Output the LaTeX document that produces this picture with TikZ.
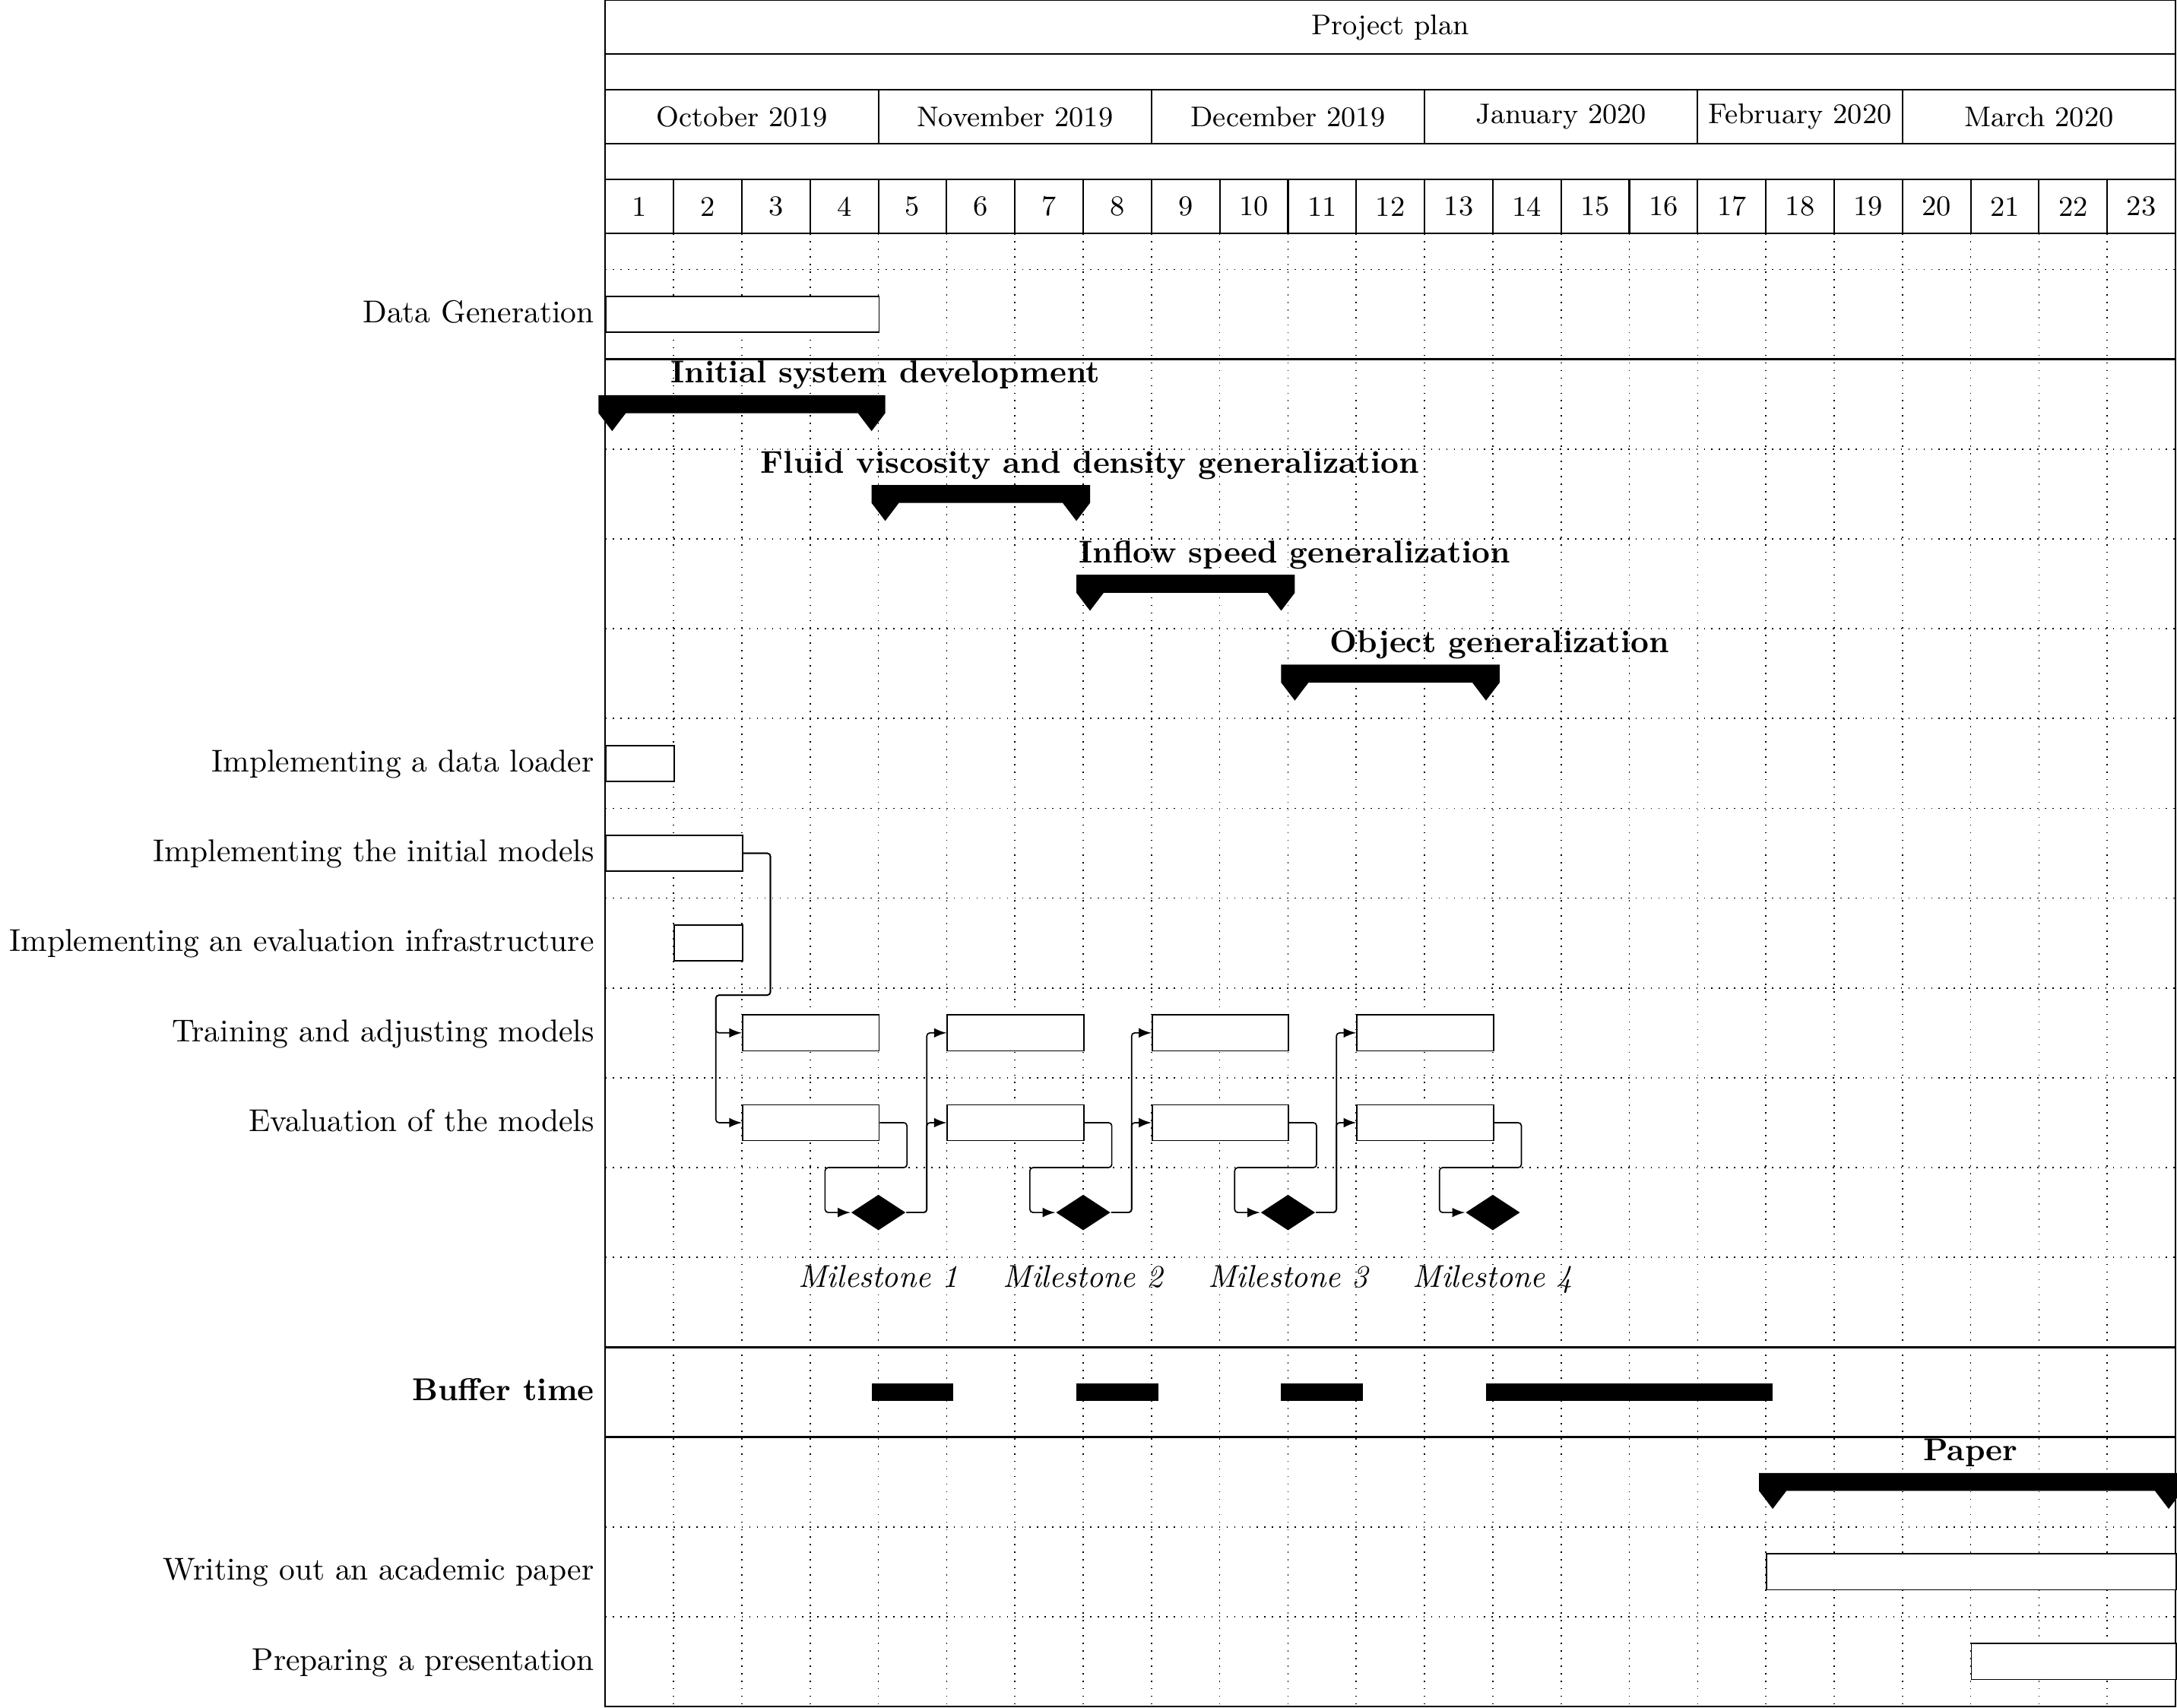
\documentclass[tikz,border=0pt]{standalone}
\usepackage{tikz}
\usetikzlibrary{arrows,shapes.geometric}

\begin{document}
\begin{tikzpicture}
		[x=0.7601cm, y=-1cm,
		gridline/.style={dotted, line width=0.4pt},
		frame/.style={line width=0.5pt},
		sep/.style={semithick},
		bar/.style={draw, fill=white, line width=0.4pt, anchor=west, inner sep=0pt,
			minimum height=0.4cm, minimum width=#1*0.7601cm},
		ms/.style={diamond, fill=black, inner sep=0pt, minimum width=0.608cm, minimum height=0.4cm},
		lbl/.style={anchor=base east},
		grplbl/.style={anchor=base, font=\bfseries},
		mslbl/.style={anchor=base, font=\itshape},
		head/.style={font=\small},
		link/.style={-latex, line width=0.4pt, rounded corners=1pt}]

		\useasboundingbox (-8.867,0) rectangle (23.022,19.014);

		% grid
		\foreach \i in {1,...,22}
			\draw[gridline] (\i,2.6) -- (\i,19);
		\foreach \j in {3,5,6,7,8,9,10,11,12,13,14,17,18}
			\draw[gridline] (0,\j) -- (23,\j);

		% title rows
		\draw[frame] (0,0) rectangle (23,19);
		\foreach \j in {0.6,1,1.6,2,2.6}
			\draw[frame] (0,\j) -- (23,\j);
		\node[head] (title) at (11.5,0.31) {Project plan};
		\foreach \a/\b/\m [count=\k] in {0/4/October 2019, 4/8/November 2019, 8/12/December 2019,
				12/16/January 2020, 16/19/February 2020, 19/23/March 2020} {
			\draw[frame] (\b,1) -- (\b,1.6);
			\node[head] (month\k) at ({(\a+\b)/2},1.3) {\m};
		}
		\foreach \i in {1,...,23} {
			\draw[frame] (\i,2) -- (\i,2.6);
			\node[head] (day\i) at (\i-0.5,2.3) {\i};
		}

		% section lines
		\draw[sep] (0,4) -- (23,4);
		\draw[sep] (0,15) -- (23,15);
		\draw[sep] (0,16) -- (23,16);

		% labels
		\node[lbl] (ldatagen) at (0,3.595) {Data Generation};
		\node[lbl] (lloader) at (0,8.595) {Implementing a data loader};
		\node[lbl] (linitmod) at (0,9.595) {Implementing the initial models};
		\node[lbl] (levalinf) at (0,10.595) {Implementing an evaluation infrastructure};
		\node[lbl] (ltrain) at (0,11.595) {Training and adjusting models};
		\node[lbl] (leval) at (0,12.595) {Evaluation of the models};
		\node[lbl, font=\bfseries] (lbuffer) at (0,15.595) {Buffer time};
		\node[lbl] (lwriting) at (0,17.595) {Writing out an academic paper};
		\node[lbl] (lpresent) at (0,18.595) {Preparing a presentation};

		% groups
		\foreach \a/\b/\r in {0/4/4, 4/7/5, 7/10/6, 10/13/7, 17/23/16}
			\fill (\a-0.1,\r+0.4) -- (\b+0.1,\r+0.4) -- (\b+0.1,\r+0.6) -- (\b-0.1,\r+0.8)
				-- (\b-0.3,\r+0.6) -- (\a+0.3,\r+0.6) -- (\a+0.1,\r+0.8) -- (\a-0.1,\r+0.6) -- cycle;
		\node[grplbl] (ginit) at (4.1,4.265) {Initial system development};
		\node[grplbl] (gfluid) at (7.1,5.265) {Fluid viscosity and density generalization};
		\node[grplbl] (ginflow) at (10.1,6.265) {Inflow speed generalization};
		\node[grplbl] (gobject) at (13.1,7.265) {Object generalization};
		\node[grplbl] (gpaper) at (20,16.265) {Paper};

		% bars
		\node[bar=4] (datagen) at (0,3.5) {};
		\node[bar=1] (loader) at (0,8.5) {};
		\node[bar=2] (initmod) at (0,9.5) {};
		\node[bar=1] (evalinf) at (1,10.5) {};
		\node[bar=6] (writing) at (17,17.5) {};
		\node[bar=3] (present) at (20,18.5) {};

		\foreach \a [count=\k] in {2,5,8,11} {
			\node[bar=2] (train\k) at (\a,11.5) {};
			\node[bar=2] (eval\k) at (\a,12.5) {};
			\node[ms] (ms\k) at (\a+2,13.5) {};
			\node[mslbl] (msl\k) at (\a+2,14.33) {Milestone \k};
		}

		% buffer time
		\foreach \a/\b in {4/5, 7/8, 10/11, 13/17}
			\fill (\a-0.1,15.4) rectangle (\b+0.1,15.6);

		% links
		\draw[link] (initmod.east) -- ++(0.4,0) -- ++(0,1.58) -- ++(-0.8,0) |- (train1.west);
		\draw[link] (initmod.east) -- ++(0.4,0) -- ++(0,1.58) -- ++(-0.8,0) |- (eval1.west);
		\foreach \k in {1,...,4}
			\draw[link] (eval\k.east) -- ++(0.4,0) -- ++(0,0.5) -- ++(-1.2,0) |- (ms\k.west);
		\foreach \k/\n in {1/2, 2/3, 3/4} {
			\draw[link] (ms\k.east) -- ++(0.3,0) |- (train\n.west);
			\draw[link] (ms\k.east) -- ++(0.3,0) |- (eval\n.west);
		}

	\end{tikzpicture}
\end{document}
